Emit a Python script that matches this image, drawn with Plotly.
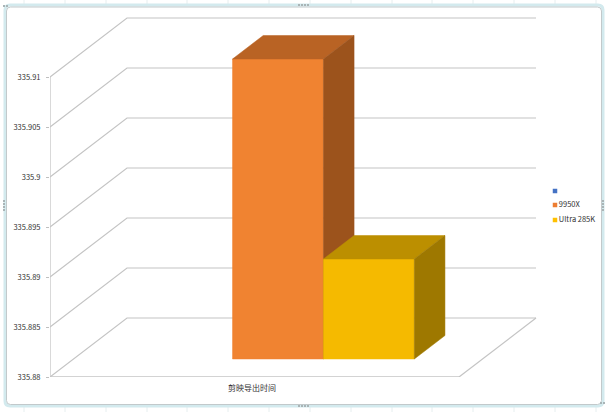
import plotly.graph_objects as go

categories = ['剪映导出时间']
series_names = ['', '9950X', 'Ultra 285K']
values_9950x = [335.91]
values_285k = [335.89]
legend_colors = ['#4472C4', '#ED7D31', '#FFC000']

y_ticks = [335.88, 335.885, 335.89, 335.895, 335.9, 335.905, 335.91]
y_labels = ['335.88', '335.885', '335.89', '335.895', '335.9', '335.905', '335.91']

Y_MIN = 335.88
GAP = 1.5
N_SERIES = 3
# oblique projection of the depth axis, in axis units
DEPTH_X = 77 / 409
DEPTH_Y = 0.0059
BAR_D0, BAR_D1 = 0.305, 0.703

W, H = 609, 412
L, R, T, B = 50, 5, 10, 35
X_MAX = (W - L - R) / 409
Y_MAX = Y_MIN + (H - T - B) / 10000


def px(x):
    return (x - L) / (W - L - R)


def py(y):
    return (H - B - y) / (H - T - B)


def proj(x, y, d):
    return x + d * DEPTH_X, y + d * DEPTH_Y


def line_trace(pts, color='#C4C4C4', width=1.2):
    xs, ys = zip(*[proj(*p) for p in pts])
    return go.Scatter(x=xs, y=ys, mode='lines', line={'color': color, 'width': width},
                      hoverinfo='skip', showlegend=False, cliponaxis=False)


def face(pts, color):
    xs, ys = zip(*[proj(*p) for p in pts])
    return go.Scatter(x=list(xs) + [xs[0]], y=list(ys) + [ys[0]], mode='lines', fill='toself',
                      fillcolor=color, line={'color': color, 'width': 0.5},
                      hoverinfo='skip', showlegend=False)


def bar(slot, value, front, top, side):
    w = 1 / (N_SERIES + GAP)
    x0 = (GAP / 2 + slot) * w
    x1 = x0 + w
    return [
        face([(x0, Y_MIN, BAR_D0), (x1, Y_MIN, BAR_D0), (x1, value, BAR_D0), (x0, value, BAR_D0)], front),
        face([(x0, value, BAR_D0), (x1, value, BAR_D0), (x1, value, BAR_D1), (x0, value, BAR_D1)], top),
        face([(x1, Y_MIN, BAR_D0), (x1, Y_MIN, BAR_D1), (x1, value, BAR_D1), (x1, value, BAR_D0)], side),
    ]


def frame_path(x0, y0, x1, y1, r):
    a, b, c, d = px(x0), py(y0), px(x1), py(y1)
    rx, ry = r / (W - L - R), r / (H - T - B)
    return (f'M {a + rx} {b} L {c - rx} {b} Q {c} {b} {c} {b - ry} L {c} {d + ry} Q {c} {d} {c - rx} {d} '
            f'L {a + rx} {d} Q {a} {d} {a} {d + ry} L {a} {b - ry} Q {a} {b} {a + rx} {b} Z')


def handle(x, y, horizontal):
    # the little dotted grips excel puts on a selected chart
    dots = range(4)
    out = []
    for i in dots:
        cx = x + (i * 3 if horizontal else 0)
        cy = y + (0 if horizontal else i * 3)
        out.append(dict(type='rect', xref='paper', yref='paper', x0=px(cx), x1=px(cx + 2),
                        y0=py(cy + 2), y1=py(cy), line={'width': 0}, fillcolor='#A9B4B6'))
    return out


fig = go.Figure()

# walls
for t in y_ticks:
    fig.add_trace(line_trace([(0, t, 0), (0, t, 1), (1, t, 1)]))
fig.add_trace(line_trace([(1, Y_MIN, 0), (1, Y_MIN, 1)]))
fig.add_trace(line_trace([(0, Y_MIN, 0), (1, Y_MIN, 0)], width=1.5))
fig.add_trace(line_trace([(0, Y_MIN, 0), (0, y_ticks[-1], 0)], width=1.3))
for edge in [0, 1]:
    fig.add_trace(line_trace([(edge, Y_MIN, 0), (edge, Y_MIN - 0.0003, 0)], width=1))

# bars, the short one goes on top so its faces stay clean
for tr in bar(1, values_9950x[0], '#F08331', '#B96324', '#9C531C'):
    fig.add_trace(tr)
for tr in bar(2, values_285k[0], '#F5BA00', '#BC8F00', '#9E7800'):
    fig.add_trace(tr)

# legend drawn by hand, the native one leaves too wide a gap after the key
legend_px_x = 555
legend_px_y = [191, 205, 220]
fig.add_trace(go.Scatter(
    x=[(legend_px_x - L) / 409] * 3,
    y=[Y_MIN + (H - B - v) / 10000 for v in legend_px_y],
    mode='markers+text', text=series_names, textposition='middle right',
    textfont={'size': 7.5, 'color': '#333333'},
    marker={'symbol': 'square', 'size': 4.5, 'color': legend_colors},
    hoverinfo='skip', showlegend=False, cliponaxis=False))

shapes = [
    # sheet cell lines behind the chart
    *[dict(type='line', xref='paper', yref='paper', x0=px(x), x1=px(x), y0=py(H), y1=py(0),
           line={'color': '#E6EEEF', 'width': 1}, layer='below')
      for x in [24, 65, 106, 147, 187, 228, 269, 310, 351, 392, 432, 473, 514, 555, 596]],
    # chart frame
    dict(type='path', xref='paper', yref='paper', path=frame_path(5, 5, 603, 406, 5),
         line={'color': '#D3EAEE', 'width': 3}, fillcolor='white', layer='below'),
    dict(type='path', xref='paper', yref='paper', path=frame_path(6.5, 7, 601.5, 404.5, 4),
         line={'color': '#C2C9CB', 'width': 1}, fillcolor='white', layer='below'),
    *handle(298, 4, True), *handle(298, 405, True),
    *handle(3, 200, False), *handle(602, 200, False),
    *handle(3, 5, True)[:2], *handle(600, 402, True)[:2],
]

fig.update_layout(
    width=W, height=H, autosize=False,
    margin={'l': L, 'r': R, 't': T, 'b': B},
    paper_bgcolor='white', plot_bgcolor='rgba(0,0,0,0)',
    font={'family': 'Noto Sans CJK SC, Liberation Sans, sans-serif', 'size': 8, 'color': '#333333'},
    shapes=shapes,
    showlegend=False,
    xaxis={'range': [0, X_MAX], 'tickvals': [0.494], 'ticktext': categories, 'showgrid': False,
           'zeroline': False, 'showline': False, 'ticks': '', 'ticklabelstandoff': 5,
           'tickfont': {'size': 8}, 'fixedrange': True},
    yaxis={'range': [Y_MIN, Y_MAX], 'tickvals': y_ticks, 'ticktext': y_labels, 'showgrid': False,
           'zeroline': False, 'showline': False, 'ticks': 'outside', 'ticklen': 3, 'tickcolor': '#BFBFBF',
           'ticklabelstandoff': 4, 'tickfont': {'size': 7.5}, 'fixedrange': True},
)

fig.write_html("out.html", config={'displayModeBar': False},
               post_script="document.body.style.margin='0';document.body.style.overflow='hidden';")
